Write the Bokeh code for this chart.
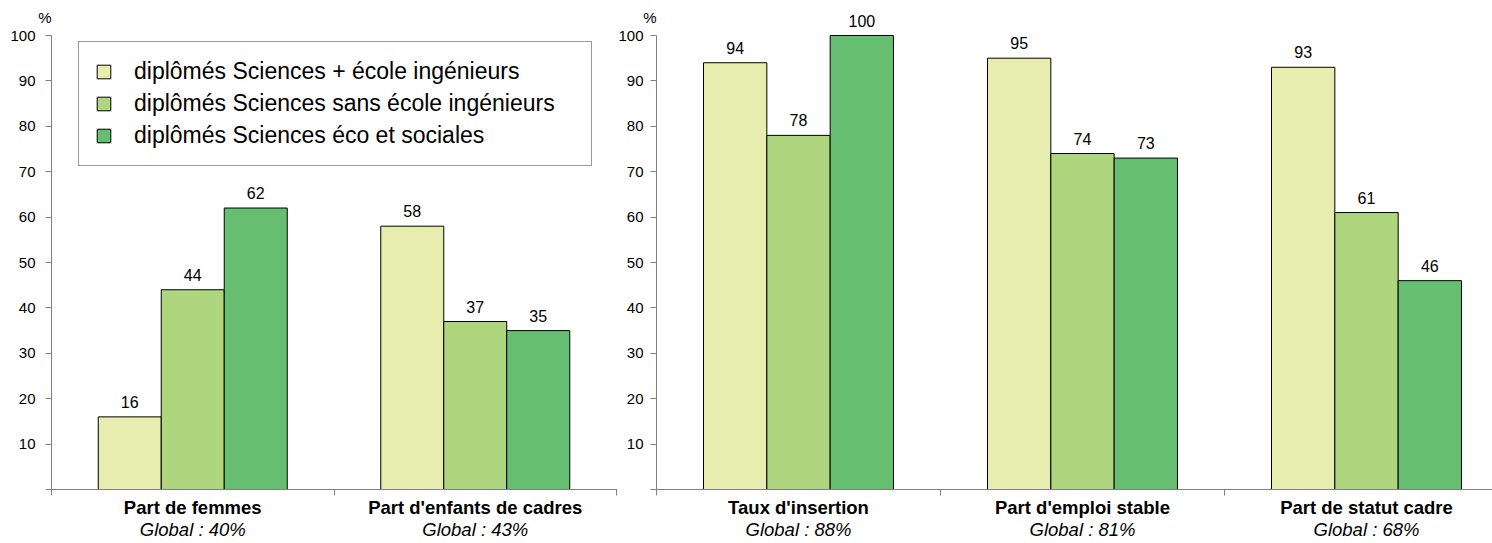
from bokeh.plotting import figure
from bokeh.layouts import row
from bokeh.models import Range1d, FixedTicker, Legend, LegendItem, ColumnDataSource
from bokeh.core.properties import value
from bokeh.embed import file_html
from bokeh.resources import INLINE

# ---- data ----
series = [
    "diplômés Sciences + école ingénieurs",
    "diplômés Sciences sans école ingénieurs",
    "diplômés Sciences éco et sociales",
]
left_categories = ["Part de femmes", "Part d'enfants de cadres"]
left_globals = ["Global : 40%", "Global : 43%"]
left_s1 = [16, 58]
left_s2 = [44, 37]
left_s3 = [62, 35]

right_categories = ["Taux d'insertion", "Part d'emploi stable", "Part de statut cadre"]
right_globals = ["Global : 88%", "Global : 81%", "Global : 68%"]
right_s1 = [94, 95, 93]
right_s2 = [78, 74, 61]
right_s3 = [100, 73, 46]

y_ticks = [10, 20, 30, 40, 50, 60, 70, 80, 90, 100]

# ---- style ----
FONT = "Liberation Sans"
COLORS = ["#E6EDAF", "#AED67F", "#66BF70"]
AXIS_COLOR = "#808080"
BAR_W = 0.223
HEIGHT = 542
PX_PER_UNIT = 4.54          # vertical pixels per percent
ZERO_PX = 489               # pixel row of the value 0
Y_END = ZERO_PX / PX_PER_UNIT
Y_START = -(HEIGHT - ZERO_PX) / PX_PER_UNIT


def make_panel(categories, globals_, series_vals, width, unit_px, axis_px, x_end,
               y_standoff, with_legend):
    x_start = -axis_px / unit_px
    p = figure(width=width, height=HEIGHT,
               x_range=Range1d(x_start, x_end), y_range=Range1d(Y_START, Y_END),
               output_backend="svg", toolbar_location=None,
               min_border=0, min_border_left=0, min_border_right=0,
               min_border_top=0, min_border_bottom=0)
    p.grid.visible = False
    p.outline_line_color = None
    p.background_fill_color = "white"
    p.border_fill_color = "white"

    ya = p.yaxis[0]
    ya.fixed_location = 0
    ya.ticker = FixedTicker(ticks=y_ticks)
    ya.bounds = (0, 100)
    ya.minor_tick_line_color = None
    ya.major_tick_out = 6
    ya.major_tick_in = 0
    ya.axis_line_color = AXIS_COLOR
    ya.major_tick_line_color = AXIS_COLOR
    ya.major_label_text_font = FONT
    ya.major_label_text_font_size = "15px"
    ya.major_label_text_color = "black"
    ya.major_label_standoff = y_standoff

    n = len(categories)
    centers = [i + 0.5 for i in range(n)]
    xa = p.xaxis[0]
    xa.fixed_location = 0
    xa.ticker = FixedTicker(ticks=centers, minor_ticks=list(range(0, n + 1)))
    xa.major_label_overrides = {c: cat for c, cat in zip(centers, categories)}
    xa.major_label_text_font = FONT
    xa.major_label_text_font_size = "18.5px"
    xa.major_label_text_font_style = "bold"
    xa.major_label_text_color = "black"
    xa.major_label_standoff = 1
    xa.bounds = (-6 / unit_px, x_end)
    xa.major_tick_line_color = None
    xa.major_tick_out = 0
    xa.major_tick_in = 0
    xa.minor_tick_out = 6
    xa.minor_tick_in = 0
    xa.minor_tick_line_color = AXIS_COLOR
    xa.axis_line_color = AXIS_COLOR

    renderers = []
    for k, vals in enumerate(series_vals):
        xs = [c + (k - 1) * BAR_W for c in centers]
        src = ColumnDataSource(dict(x=xs, top=vals, label=[str(v) for v in vals]))
        r = p.vbar(x="x", top="top", bottom=0, width=BAR_W, source=src,
                   fill_color=COLORS[k], line_color="black", line_width=1)
        renderers.append(r)
        p.text(x="x", y="top", text="label", source=src,
               text_align="center", text_baseline="bottom", y_offset=-9,
               text_font=value(FONT), text_font_size="16px", text_color="black")

    glob_src = ColumnDataSource(dict(x=centers, y=[0] * n, glob=globals_))
    p.text(x="x", y="y", text="glob", source=glob_src, text_align="center",
           text_baseline="top", y_offset=29, text_font=value(FONT),
           text_font_size="18.5px", text_font_style="italic", text_color="black")

    pct_src = ColumnDataSource(dict(x=[0], y=[100], t=["%"]))
    p.text(x="x", y="y", text="t", source=pct_src, text_align="right",
           text_baseline="bottom", x_offset=0, y_offset=-10, text_font=value(FONT),
           text_font_size="15px", text_color="black")

    if with_legend:
        items = [LegendItem(label=series[k], renderers=[renderers[k]]) for k in range(3)]
        legend = Legend(items=items, location=(78, 376), padding=16, spacing=5,
                        label_height=22, label_width=441,
                        glyph_height=17, glyph_width=17, label_standoff=22,
                        label_text_font=FONT, label_text_font_size="23px",
                        label_text_color="black",
                        border_line_color="#333333", border_line_width=1,
                        background_fill_color="white", background_fill_alpha=1, margin=0)
        p.add_layout(legend)
    return p


# left panel: canvas 0..617, value axis at pixel 51, category width 282.5 px
left = make_panel(left_categories, left_globals, [left_s1, left_s2, left_s3],
                  width=617, unit_px=282.5, axis_px=51, x_end=2 + 1 / 282.5,
                  y_standoff=10, with_legend=True)
# right panel: canvas 617..1492, value axis at pixel 656, category width 284 px
right = make_panel(right_categories, right_globals, [right_s1, right_s2, right_s3],
                   width=875, unit_px=284, axis_px=39, x_end=836 / 284,
                   y_standoff=7, with_legend=False)

layout = row(left, right, spacing=0)
open("out.html", "w").write(file_html(layout, INLINE))
